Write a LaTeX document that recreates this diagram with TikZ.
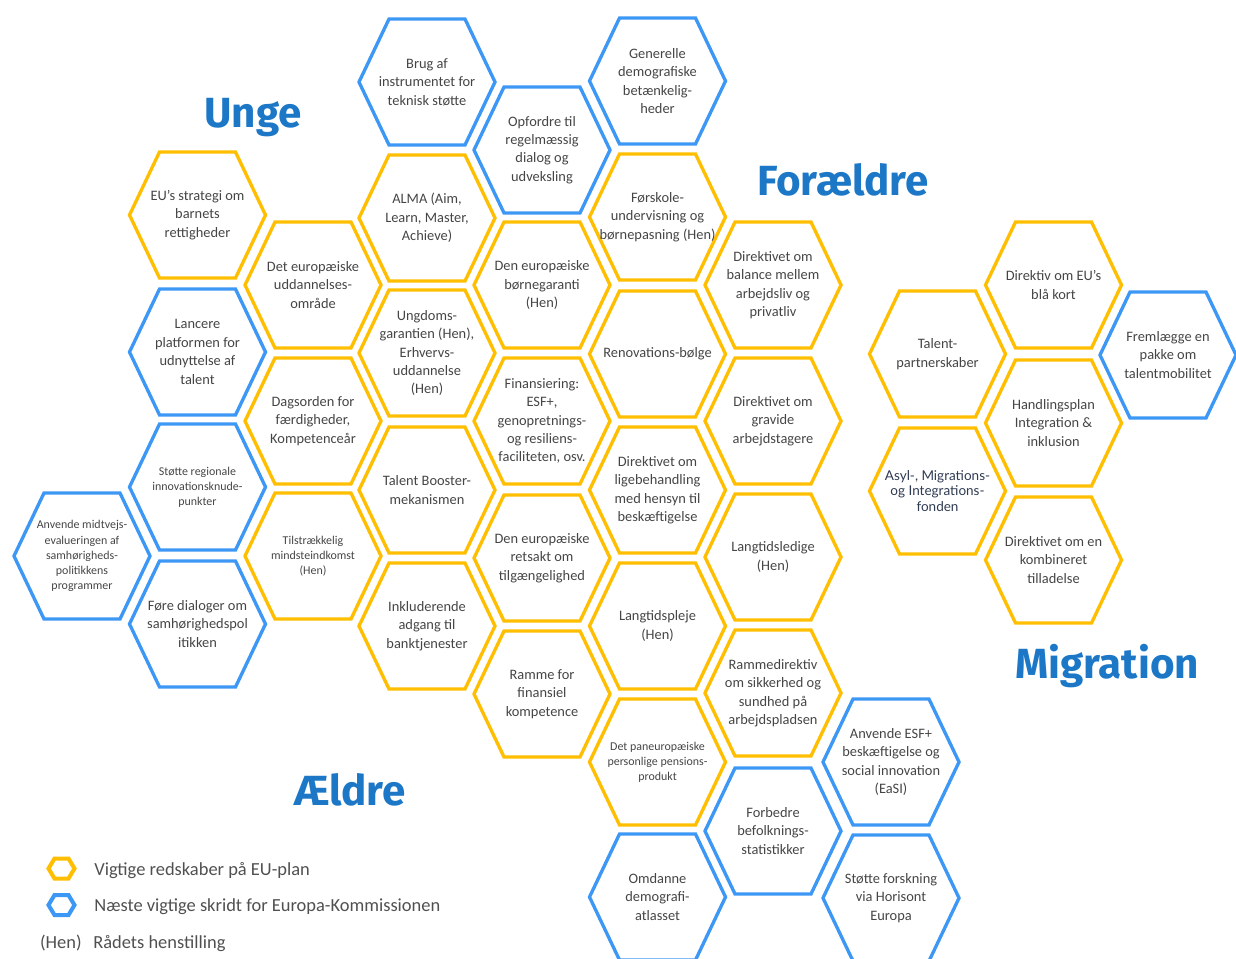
\documentclass[tikz,border=0pt]{standalone}
\usepackage{fontspec}
\setmainfont{Carlito}
\newfontfamily\titlefont{Fira Sans}
\newfontfamily\asylfont{Lato}

\definecolor{hexyellow}{HTML}{FFBF00}
\definecolor{hexblue}{HTML}{3D98F5}
\definecolor{titleblue}{HTML}{1C78C6}
\definecolor{txtgray}{HTML}{454545}
\definecolor{asylnavy}{HTML}{2E3A52}
\definecolor{legendgray}{HTML}{505050}

% hexagon cell: [text style] name, x, y, outline style, text
\newcommand{\hexcell}[6][cell]{%
  \draw[#5] (#3-68,#4) -- (#3-38,#4-63) -- (#3+38,#4-63) -- (#3+68,#4)
    -- (#3+38,#4+63) -- (#3-38,#4+63) -- cycle;
  \node[#1] (#2) at (#3,#4) {#6};}
% small legend hexagon
\newcommand{\hexmark}[3]{%
  \draw[#3, line width=2.3pt] (#1-13,#2) -- (#1-7,#2-10) -- (#1+7,#2-10) -- (#1+13,#2)
    -- (#1+7,#2+10) -- (#1-7,#2+10) -- cycle;}

\begin{document}
\begin{tikzpicture}[x=0.02cm, y=-0.02cm,
    hexy/.style={draw=hexyellow, line width=1.9pt},
    hexb/.style={draw=hexblue, line width=1.9pt},
    cell/.style={align=center, text=txtgray, inner sep=0pt, font=\fontsize{8.2}{10.5}\selectfont},
    smallcell/.style={cell, font=\fontsize{6.8}{8.6}\selectfont},
    asylcell/.style={cell, text=asylnavy, font=\asylfont\fontsize{7.7}{8.8}\selectfont},
    title/.style={anchor=base, text=titleblue, font=\titlefont\bfseries\fontsize{24}{28}\selectfont},
    legend/.style={anchor=base west, inner sep=0pt, text=legendgray, font=\fontsize{10.5}{12}\selectfont}]
    \useasboundingbox (0,0) rectangle (1236,958);

    % Titles
    \node[title] (unge) at (253,127) {Unge};
    \node[title] (foraeldre) at (843,195) {Forældre};
    \node[title] (migration) at (1107,678) {Migration};
    \node[title] (aeldre) at (350,805) {Ældre};

    % Column 0 and 1
    \hexcell[smallcell]{midtvejs}{82}{556}{hexb}{Anvende midtvejs-\\evalueringen af\\samhørigheds-\\politikkens\\programmer}
    \hexcell{strategi}{197.5}{215}{hexy}{EU’s strategi om\\barnets\\rettigheder}
    \hexcell{lancere}{197.5}{352}{hexb}{Lancere\\platformen for\\udnyttelse af\\talent}
    \hexcell[smallcell]{regionale}{197.5}{487}{hexb}{Støtte regionale\\innovationsknude-\\punkter}
    \hexcell{dialoger}{197.5}{624}{hexb}{Føre dialoger om\\samhørighedspol\\itikken}

    % Column 2
    \hexcell{uddannelse}{313}{285}{hexy}{Det europæiske\\uddannelses-\\område}
    \hexcell{dagsorden}{313}{421}{hexy}{Dagsorden for\\færdigheder,\\Kompetenceår}
    \hexcell[smallcell]{mindste}{313}{556}{hexy}{Tilstrækkelig\\mindsteindkomst\\(Hen)}

    % Column 3
    \hexcell{brug}{427}{82}{hexb}{Brug af\\instrumentet for\\teknisk støtte}
    \hexcell{alma}{427}{218}{hexy}{ALMA (Aim,\\Learn, Master,\\Achieve)}
    \hexcell{ungdom}{427}{353}{hexy}{Ungdoms-\\garantien (Hen),\\Erhvervs-\\uddannelse\\(Hen)}
    \hexcell{booster}{427}{490}{hexy}{Talent Booster-\\mekanismen}
    \hexcell{bank}{427}{626}{hexy}{Inkluderende\\adgang til\\banktjenester}

    % Column 4
    \hexcell{opfordre}{542}{150}{hexb}{Opfordre til\\regelmæssig\\dialog og\\udveksling}
    \hexcell{garanti}{542}{285}{hexy}{Den europæiske\\børnegaranti\\(Hen)}
    \hexcell{finans}{542}{421}{hexy}{Finansiering:\\ESF+,\\genopretnings-\\og resiliens-\\faciliteten, osv.}
    \hexcell{retsakt}{542}{558}{hexy}{Den europæiske\\retsakt om\\tilgængelighed}
    \hexcell{ramme}{542}{694}{hexy}{Ramme for\\finansiel\\kompetence}

    % Column 5
    \hexcell{generelle}{657.5}{81}{hexb}{Generelle\\demografiske\\betænkelig-\\heder}
    \hexcell{forskole}{657.5}{217}{hexy}{Førskole-\\undervisning og\\børnepasning (Hen)}
    \hexcell{renovation}{657.5}{354}{hexy}{Renovations-bølge}
    \hexcell{ligebeh}{657.5}{490}{hexy}{Direktivet om\\ligebehandling\\med hensyn til\\beskæftigelse}
    \hexcell{pleje}{657.5}{626}{hexy}{Langtidspleje\\(Hen)}
    \hexcell[smallcell]{pension}{657.5}{762}{hexy}{Det paneuropæiske\\personlige pensions-\\produkt}
    \hexcell{atlas}{657.5}{897}{hexb}{Omdanne\\demografi-\\atlasset}

    % Column 6
    \hexcell{balance}{773}{285}{hexy}{Direktivet om\\balance mellem\\arbejdsliv og\\privatliv}
    \hexcell{gravide}{773}{421}{hexy}{Direktivet om\\gravide\\arbejdstagere}
    \hexcell{ledige}{773}{557}{hexy}{Langtidsledige\\(Hen)}
    \hexcell{sikkerhed}{773}{693}{hexy}{Rammedirektiv\\om sikkerhed og\\sundhed på\\arbejdspladsen}
    \hexcell{statistik}{773}{831}{hexb}{Forbedre\\befolknings-\\statistikker}

    % Column 7
    \hexcell{easi}{891}{762}{hexb}{Anvende ESF+\\beskæftigelse og\\social innovation\\(EaSI)}
    \hexcell{horisont}{891}{898}{hexb}{Støtte forskning\\via Horisont\\Europa}

    % Migration
    \hexcell{partner}{937.5}{354}{hexy}{Talent-\\partnerskaber}
    \hexcell[asylcell]{asyl}{937.5}{491}{hexy}{Asyl-, Migrations-\\og Integrations-\\fonden}
    \hexcell{blaakort}{1053.5}{285}{hexy}{Direktiv om EU’s\\blå kort}
    \hexcell{handling}{1053.5}{423}{hexy}{Handlingsplan\\Integration \&\\inklusion}
    \hexcell{kombineret}{1053.5}{560}{hexy}{Direktivet om en\\kombineret\\tilladelse}
    \hexcell{pakke}{1168}{355}{hexb}{Fremlægge en\\pakke om\\talentmobilitet}

    % Legend
    \hexmark{61.5}{868.5}{hexy}
    \hexmark{61.5}{905}{hexb}
    \node[legend] (legy) at (94,875) {Vigtige redskaber på EU-plan};
    \node[legend] (legb) at (94,911) {Næste vigtige skridt for Europa-Kommissionen};
    \node[legend, anchor=base east] (hen) at (82,948) {(Hen)};
    \node[legend] (raad) at (93,948) {Rådets henstilling};
\end{tikzpicture}
\end{document}
